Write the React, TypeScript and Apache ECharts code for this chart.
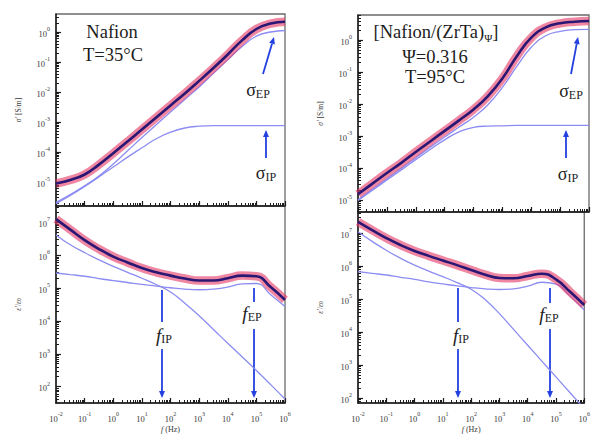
import React, { useEffect, useRef } from 'react';
import * as echarts from 'echarts';

// log10 of frequency (Hz) at which values were read
const logF = [-2, -1.5, -1, -0.5, 0, 0.5, 1, 1.5, 2, 2.5, 3, 3.5, 4, 4.5, 5, 5.5, 6];

// Panel 1: Nafion, T=35°C, log10 sigma' [S/m]
const sigL_total = [-5.05, -4.93, -4.75, -4.42, -4.04, -3.65, -3.25, -2.85, -2.45, -2.05, -1.63, -1.2, -0.75, -0.28, 0.1, 0.28, 0.34];
const sigL_EP = [-5.68, -5.42, -5.13, -4.8, -4.4, -3.96, -3.52, -3.09, -2.67, -2.25, -1.83, -1.38, -0.93, -0.48, -0.14, 0.0, 0.05];
const sigL_IP = [-5.72, -5.45, -5.15, -4.83, -4.5, -4.17, -3.86, -3.56, -3.34, -3.2, -3.14, -3.12, -3.12, -3.12, -3.12, -3.12, -3.12];

// Panel 2: Nafion, T=35°C, log10 eps'/eps0
const epsL_total = [7.1, 6.78, 6.46, 6.19, 5.96, 5.78, 5.61, 5.48, 5.38, 5.29, 5.23, 5.23, 5.3, 5.38, 5.36, 5.03, 4.64];
const epsL_A = [6.62, 6.32, 6.08, 5.86, 5.66, 5.48, 5.3, 5.11, 4.88, 4.54, 4.16, 3.74, 3.32, 2.91, 2.49, 2.06, 1.62];
const epsL_B = [5.46, 5.41, 5.36, 5.29, 5.23, 5.17, 5.11, 5.06, 5.01, 4.97, 4.95, 4.97, 5.03, 5.13, 5.14, 4.8, 4.44];

// Panel 3: [Nafion/(ZrTa)Ψ], Ψ=0.316, T=95°C, log10 sigma'
const sigR_total = [-4.82, -4.49, -4.16, -3.84, -3.5, -3.17, -2.84, -2.51, -2.17, -1.75, -1.2, -0.5, 0.08, 0.4, 0.53, 0.58, 0.6];
const sigR_EP = [-5.0, -4.67, -4.34, -4.01, -3.68, -3.35, -3.03, -2.72, -2.41, -2.02, -1.48, -0.82, -0.22, 0.14, 0.28, 0.33, 0.34];
const sigR_IP = [-5.02, -4.7, -4.38, -4.06, -3.74, -3.42, -3.12, -2.87, -2.73, -2.69, -2.68, -2.67, -2.67, -2.67, -2.67, -2.67, -2.67];

// Panel 4: [Nafion/(ZrTa)Ψ], log10 eps'/eps0
const epsR_total = [7.34, 7.09, 6.85, 6.64, 6.46, 6.31, 6.17, 6.03, 5.88, 5.74, 5.64, 5.63, 5.7, 5.77, 5.6, 5.22, 4.82];
const epsR_A = [7.04, 6.75, 6.48, 6.24, 6.03, 5.85, 5.68, 5.5, 5.3, 4.98, 4.56, 4.08, 3.6, 3.12, 2.64, 2.16, 1.68];
const epsR_B = [5.83, 5.78, 5.73, 5.66, 5.6, 5.52, 5.46, 5.4, 5.35, 5.31, 5.29, 5.31, 5.39, 5.51, 5.45, 5.09, 4.67];

// axis extents (log10) and tick exponents
const xRange = [-2, 6];
const yRanges = [[-5.8, 0.6], [1.5, 7.5], [-5.38, 0.79], [1.85, 7.64]];
const sigTickExps = [-5, -4, -3, -2, -1, 0];
const epsTickExps = [2, 3, 4, 5, 6, 7];

const FONT = "'Liberation Serif', 'Times New Roman', serif";
const INK = '#1c1c1c';
const LBL = '#3a3a3a';
const ARROW = '#2340e0';
const THIN = '#8c8cf2';

const grids = [
  { left: 56, top: 14, width: 229, height: 192 },
  { left: 56, top: 206, width: 229, height: 197 },
  { left: 358, top: 15, width: 231, height: 197 },
  { left: 358, top: 212, width: 231, height: 191 },
];

const minorTicks = (lo: number, hi: number) => {
  const out: number[] = [];
  for (let n = Math.floor(lo); n <= Math.ceil(hi); n++) {
    for (let k = 2; k <= 9; k++) {
      const v = n + Math.log10(k);
      if (v > lo && v < hi) out.push(v);
    }
  }
  return out;
};

const supRich = {
  b: { fontSize: 8.5, lineHeight: 12, verticalAlign: 'bottom', color: LBL, fontFamily: FONT },
  s: { fontSize: 6, lineHeight: 6, verticalAlign: 'top', color: LBL, fontFamily: FONT },
};
const powFmt = (v: number) => `{b|10}{s|${Math.round(v)}}`;

const zip = (ys: number[]) => logF.map((x, i) => [x, ys[i]]);

function arrow(x1: number, y1: number, x2: number, y2: number, head = 7, half = 3) {
  const dx = x2 - x1, dy = y2 - y1;
  const L = Math.hypot(dx, dy);
  const ux = dx / L, uy = dy / L;
  const bx = x2 - ux * head, by = y2 - uy * head;
  const px = -uy * half, py = ux * half;
  return [
    { type: 'line', shape: { x1, y1, x2: bx, y2: by }, style: { stroke: ARROW, lineWidth: 1.8 }, silent: true },
    {
      type: 'polygon',
      shape: { points: [[x2, y2], [bx + px, by + py], [bx - px, by - py]] },
      style: { fill: ARROW },
      silent: true,
    },
  ];
}

const seg = (x1: number, y1: number, x2: number, y2: number) => ({
  type: 'line', shape: { x1, y1, x2, y2 }, style: { stroke: ARROW, lineWidth: 1.8 }, silent: true,
});

const txt = (x: number, y: number, text: string, rich: any, extra: any = {}) => ({
  type: 'text', x, y, silent: true,
  style: { text, rich, align: 'center', verticalAlign: 'middle', fill: INK, fontFamily: FONT, ...extra },
});

const bigRich = {
  a: { fontSize: 18.5, fontFamily: FONT, fill: INK, lineHeight: 22 },
  s: { fontSize: 11, fontFamily: FONT, fill: INK, lineHeight: 11, verticalAlign: 'bottom' },
};
const symRich = {
  a: { fontSize: 18, fontFamily: FONT, fill: INK, lineHeight: 20, verticalAlign: 'middle' },
  s: { fontSize: 12, fontFamily: FONT, fill: INK, lineHeight: 11, verticalAlign: 'bottom' },
  i: { fontSize: 19, fontFamily: FONT, fontStyle: 'italic', fill: INK, lineHeight: 20, verticalAlign: 'middle' },
};

export default function App() {
  const ref = useRef<HTMLDivElement>(null);
  useEffect(() => {
    if (!ref.current) return;
    const chart = echarts.init(ref.current, undefined, { renderer: 'svg' });

    const xAxes: any[] = [];
    const yAxes: any[] = [];
    grids.forEach((g, gi) => {
      const isBottom = gi === 1 || gi === 3;
      const isSig = gi === 0 || gi === 2;
      const [ylo, yhi] = yRanges[gi];
      xAxes.push({
        type: 'value', gridIndex: gi, min: xRange[0], max: xRange[1], interval: 1, position: 'bottom',
        axisLine: { show: true, onZero: false, lineStyle: { color: INK, width: 1.5 } },
        axisTick: { show: true, inside: true, length: 5, lineStyle: { color: INK, width: 1.2 } },
        axisLabel: { show: isBottom, formatter: powFmt, rich: supRich, margin: 8 },
        splitLine: { show: false },
        name: isBottom ? '{i|f} (Hz)' : '',
        nameLocation: 'middle', nameGap: 22,
        nameTextStyle: {
          fontSize: 8, fontFamily: FONT, color: LBL,
          rich: { i: { fontSize: 8, fontStyle: 'italic', fontFamily: FONT, color: LBL } },
        },
      });
      const majors = (isSig ? sigTickExps : epsTickExps).filter((v) => v >= ylo && v <= yhi);
      yAxes.push({
        type: 'value', gridIndex: gi, min: ylo, max: yhi, position: 'left',
        axisLine: { show: true, onZero: false, lineStyle: { color: INK, width: 1.5 } },
        axisTick: { show: true, inside: true, length: 5, customValues: majors, lineStyle: { color: INK, width: 1.2 } },
        axisLabel: { show: true, customValues: majors, formatter: powFmt, rich: supRich, margin: 6 },
        splitLine: { show: false },
        name: isSig ? "{i|σ'} [S/m]" : "{i|ε'}/{i|ε}{s|0}",
        nameLocation: 'middle', nameGap: 34, nameRotate: 90,
        nameTextStyle: {
          fontSize: 7.5, fontFamily: FONT, color: LBL,
          rich: {
            i: { fontSize: 7.5, fontStyle: 'italic', fontFamily: FONT, color: LBL },
            s: { fontSize: 5.5, fontFamily: FONT, color: LBL, verticalAlign: 'bottom', lineHeight: 5 },
          },
        },
      });
    });
    grids.forEach((g, gi) => {
      const [ylo, yhi] = yRanges[gi];
      xAxes.push({
        type: 'value', gridIndex: gi, min: xRange[0], max: xRange[1], position: 'bottom',
        axisLine: { show: false, onZero: false },
        axisTick: { show: true, inside: true, length: 3, customValues: minorTicks(xRange[0], xRange[1]), lineStyle: { color: INK, width: 1 } },
        axisLabel: { show: false },
        splitLine: { show: false },
      });
      yAxes.push({
        type: 'value', gridIndex: gi, min: ylo, max: yhi, position: 'left',
        axisLine: { show: false, onZero: false },
        axisTick: { show: true, inside: true, length: 3, customValues: minorTicks(ylo, yhi), lineStyle: { color: INK, width: 1 } },
        axisLabel: { show: false },
        splitLine: { show: false },
      });
    });

    const panels = [
      [sigL_total, sigL_EP, sigL_IP],
      [epsL_total, epsL_A, epsL_B],
      [sigR_total, sigR_EP, sigR_IP],
      [epsR_total, epsR_A, epsR_B],
    ];
    const series: any[] = [];
    panels.forEach(([tot, a, b], gi) => {
      const base = { type: 'line', xAxisIndex: gi, yAxisIndex: gi, showSymbol: false, smooth: 0.5, silent: true };
      series.push({ ...base, data: zip(a), lineStyle: { color: THIN, width: 1.3 } });
      series.push({ ...base, data: zip(b), lineStyle: { color: THIN, width: 1.3 } });
      series.push({ ...base, data: zip(tot), lineStyle: { color: 'rgba(230,55,100,0.6)', width: 8.5 } });
      series.push({ ...base, data: zip(tot), lineStyle: { color: '#2a1673', width: 2.6 } });
    });

    const graphic: any[] = [
      txt(112, 32, '{a|Nafion}', bigRich),
      txt(113, 55, '{a|T=35°C}', bigRich),
      txt(436, 32, '{a|[Nafion/(ZrTa)}{s|Ψ}{a|]}', bigRich),
      txt(435, 57, '{a|Ψ=0.316}', bigRich),
      txt(435, 77, '{a|T=95°C}', bigRich),
      txt(258, 90, '{a|σ}{s|EP}', symRich),
      txt(266, 173, '{a|σ}{s|IP}', symRich),
      txt(571, 91, '{a|σ}{s|EP}', symRich),
      txt(568, 174, '{a|σ}{s|IP}', symRich),
      txt(164, 335, '{i|f}{s|IP}', symRich),
      txt(252, 313, '{i|f}{s|EP}', symRich),
      txt(461, 335, '{i|f}{s|IP}', symRich),
      txt(549, 314, '{i|f}{s|EP}', symRich),
      ...arrow(263, 74, 274, 37),
      ...arrow(266, 158, 266, 130),
      ...arrow(571, 74, 578, 37),
      ...arrow(566, 158, 566, 130),
      seg(162, 290, 162, 322),
      ...arrow(162, 349, 162, 398),
      seg(254, 288, 254, 302),
      ...arrow(254, 329, 254, 398),
      seg(458, 288, 458, 322),
      ...arrow(458, 349, 458, 398),
      seg(550, 288, 550, 303),
      ...arrow(550, 329, 550, 398),
    ];

    chart.setOption({
      animation: false,
      backgroundColor: '#ffffff',
      grid: grids.map((g) => ({ ...g, show: true, borderColor: '#6a6a6a', borderWidth: 1.3, containLabel: false })),
      xAxis: xAxes,
      yAxis: yAxes,
      series,
      graphic,
    });
    return () => chart.dispose();
  }, []);
  return <div ref={ref} style={{ position: 'absolute', left: 0, top: 0, width: 593, height: 440 }} />;
}
